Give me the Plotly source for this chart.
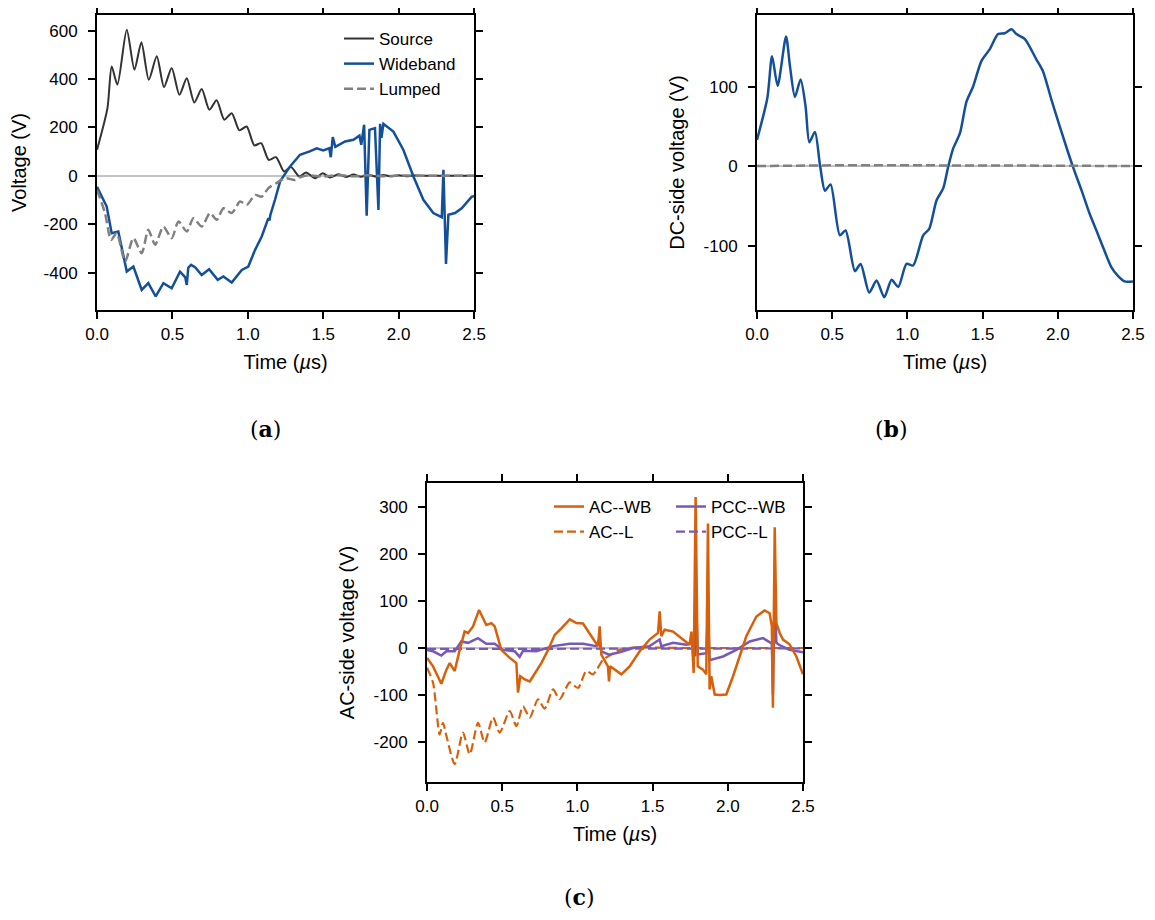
import plotly.graph_objects as go

# ---- (a) voltage at the terminal: source / wideband / lumped ----
t_src = [0, 0.069, 0.097, 0.135, 0.197, 0.248, 0.294, 0.343, 0.396, 0.444, 0.495,
         0.546, 0.595, 0.645, 0.694, 0.745, 0.793, 0.844, 0.893, 0.944, 0.992,
         1.043, 1.088, 1.138, 1.187, 1.240, 1.286, 1.342, 1.386, 1.446, 1.496,
         1.545, 1.6, 1.65, 1.7, 1.75, 1.8, 1.85, 1.9, 1.95, 2.0, 2.05, 2.1, 2.2,
         2.3, 2.5]
v_src = [108, 280, 452, 377, 604, 439, 552, 397, 494, 367, 446,
         335, 403, 303, 359, 273, 312, 232, 259, 188, 204,
         126, 135, 66, 77, 18, 36, -3, 14, -10, 11,
         -7, 6, -5, 5, -4, 4, -3, 3, -2, 2, -2, 1, 0,
         0, 0]

t_wb_a = [0, 0.004, 0.064, 0.097, 0.141, 0.175, 0.197, 0.241, 0.296, 0.340, 0.389,
          0.440, 0.495, 0.550, 0.585, 0.595, 0.605, 0.623, 0.650, 0.694, 0.743,
          0.800, 0.838, 0.893, 0.960, 1.003, 1.048, 1.092, 1.136, 1.143, 1.150,
          1.180, 1.214, 1.280, 1.346, 1.410, 1.457, 1.500, 1.540, 1.550, 1.563,
          1.580, 1.645, 1.700, 1.740, 1.752, 1.771, 1.788, 1.806, 1.843, 1.866,
          1.877, 1.886, 1.899, 1.965, 2.031, 2.098, 2.164, 2.230, 2.286, 2.297,
          2.314, 2.330, 2.374, 2.418, 2.485, 2.5]
v_wb_a = [-45, -51, -127, -237, -230, -334, -396, -375, -472, -444, -499,
          -444, -465, -396, -420, -451, -380, -368, -378, -410, -386,
          -430, -416, -441, -389, -375, -306, -251, -175, -185, -160,
          -99, -23, 39, 87, 101, 114, 105, 114, 77, 160,
          120, 142, 149, 166, 128, 211, -165, 190, 197, -141,
          215, 157, 215, 183, 108, -3, -99, -154, -171, 25,
          -364, -161, -154, -134, -86, -84]

t_lmp_a = [0, 0.053, 0.093, 0.130, 0.186, 0.241, 0.296, 0.340, 0.385, 0.440,
           0.495, 0.540, 0.595, 0.639, 0.694, 0.749, 0.794, 0.838, 0.893, 0.948,
           0.993, 1.048, 1.092, 1.136, 1.190, 1.247, 1.313, 1.346, 1.4, 1.5,
           1.6, 1.7, 1.8, 1.9, 2.0, 2.2, 2.5]
v_lmp_a = [-58, -155, -265, -237, -354, -258, -320, -223, -285, -210,
           -258, -189, -230, -175, -210, -154, -182, -134, -154, -106,
           -120, -79, -86, -51, -30, -10, -17, -6, 2, -3,
           3, -2, 2, -2, 1, 0, 0]

# ---- (b) DC-side voltage ----
t_dc_wb = [0, 0.069, 0.100, 0.137, 0.193, 0.219, 0.252, 0.290, 0.323, 0.348,
           0.385, 0.419, 0.452, 0.489, 0.551, 0.589, 0.651, 0.689, 0.746, 0.795,
           0.846, 0.895, 0.939, 0.994, 1.038, 1.105, 1.145, 1.194, 1.238, 1.271,
           1.304, 1.349, 1.393, 1.437, 1.492, 1.548, 1.603, 1.647, 1.692, 1.725,
           1.780, 1.858, 1.902, 1.957, 2.013, 2.057, 2.101, 2.157, 2.212, 2.257,
           2.301, 2.356, 2.400, 2.445, 2.5]
v_dc_wb = [33, 86, 138, 101, 163, 126, 87, 109, 75, 30,
           43, 1, -31, -23, -87, -81, -132, -123, -159, -144,
           -165, -143, -152, -123, -125, -87, -79, -43, -28, -1,
           22, 41, 81, 100, 132, 147, 166, 167, 172, 166,
           160, 134, 119, 84, 50, 24, -1, -30, -60, -81,
           -102, -127, -138, -145, -145]
t_dc_l = [0, 0.5, 1.0, 1.5, 2.0, 2.5]
v_dc_l = [0, 1, 1, 1, 0.5, 0]

# ---- (c) AC-side voltage ----
t_ac_wb = [0, 0.040, 0.095, 0.129, 0.151, 0.184, 0.217, 0.250, 0.273, 0.306,
           0.346, 0.394, 0.428, 0.450, 0.494, 0.550, 0.594, 0.605, 0.620, 0.650,
           0.683, 0.716, 0.760, 0.805, 0.849, 0.893, 0.949, 0.993, 1.037, 1.093,
           1.137, 1.148, 1.159, 1.203, 1.210, 1.218, 1.292, 1.347, 1.414, 1.480,
           1.536, 1.547, 1.558, 1.580, 1.636, 1.702, 1.746, 1.758, 1.773, 1.786,
           1.800, 1.835, 1.857, 1.868, 1.879, 1.890, 1.913, 1.945, 1.990, 2.035,
           2.079, 2.123, 2.190, 2.245, 2.278, 2.293, 2.300, 2.312, 2.323, 2.345,
           2.367, 2.410, 2.456, 2.5]
v_ac_wb = [-21, -39, -76, -46, -32, -49, -4, 35, 32, 46,
           81, 49, 53, 46, -4, -21, -32, -95, -60, -67,
           -71, -53, -32, -4, 28, 42, 61, 53, 52, 25,
           4, 46, -14, -39, -71, -39, -56, -39, -7, 18,
           32, 78, 25, 39, 35, 18, 7, 35, -53, 321,
           -39, -46, -56, 265, -88, -60, -99, -100, -99, -60,
           -18, 25, 67, 80, 74, 46, -127, 257, 53, 32,
           18, 8, -18, -56]

t_ac_l = [0, 0.040, 0.084, 0.106, 0.129, 0.184, 0.239, 0.284, 0.339, 0.383,
          0.439, 0.483, 0.550, 0.594, 0.638, 0.683, 0.738, 0.782, 0.838, 0.882,
          0.949, 1.004, 1.059, 1.104, 1.170, 1.214, 1.281, 1.370, 1.5, 1.7,
          2.0, 2.5]
v_ac_l = [-42, -74, -184, -159, -187, -247, -180, -226, -159, -201,
          -148, -180, -134, -166, -124, -148, -109, -129, -88, -109,
          -73, -85, -49, -56, -25, -16, -4, 1, 1, 0,
          0, 0]

t_pcc_wb = [0, 0.040, 0.095, 0.129, 0.184, 0.228, 0.273, 0.339, 0.394, 0.450,
            0.505, 0.583, 0.616, 0.638, 0.727, 0.838, 0.949, 1.037, 1.126, 1.144,
            1.159, 1.210, 1.281, 1.370, 1.480, 1.547, 1.558, 1.636, 1.724, 1.768,
            1.780, 1.790, 1.800, 1.857, 1.868, 1.879, 1.968, 2.057, 2.146, 2.234,
            2.280, 2.293, 2.300, 2.312, 2.323, 2.345, 2.410, 2.5]
v_pcc_wb = [-4, -7, -16, -7, -7, 14, 11, 21, 9, 9,
            -4, -7, -19, -6, -7, 4, 9, 9, 4, 16,
            -7, -14, -9, 0, 4, 18, 4, 11, 7, 11,
            -18, 91, -14, -11, 81, -26, -18, -4, 14, 21,
            12, 10, -100, 123, 11, 6, -4, -9]

t_pcc_l = [0, 0.5, 1.0, 1.5, 2.0, 2.5]
v_pcc_l = [-2, -2, -2, -1, -1, -1]

C_SRC = "#333333"
C_WB = "#14509a"
C_LMP = "#808080"
C_AC = "#d9600a"
C_PCC = "#7858b8"
DASH = "9px,4px"
FONT = "Liberation Sans, Arial, sans-serif"

# the page body adds an 8 px margin, so paper positions are shifted by it
OFF_X = 8 / 1155
OFF_Y = 8 / 920


def line(x, y, color, width, name=None, dash=None, shape="linear",
         xa="x", ya="y", legend="legend"):
    return go.Scatter(
        x=x, y=y, mode="lines", name=name, showlegend=name is not None,
        line=dict(color=color, width=width, dash=dash, shape=shape, smoothing=0.7),
        xaxis=xa, yaxis=ya, legend=legend, hoverinfo="skip",
    )


def yaxis_style(domain_y, rng, vals, title, anchor):
    return dict(
        domain=domain_y, range=rng, anchor=anchor, automargin=False,
        tickvals=vals, ticktext=[str(v) for v in vals], ticklabelstandoff=7,
        title=dict(text=title, standoff=14, font=dict(size=20)),
        showline=True, linecolor="black", linewidth=2, mirror="ticks",
        ticks="outside", ticklen=7, tickwidth=1.5, tickcolor="black",
        showgrid=False, zeroline=True, zerolinecolor="#c4c4c4", zerolinewidth=1.5,
    )


def xaxis_style(domain_x, anchor):
    return dict(
        domain=domain_x, range=[0, 2.5], anchor=anchor, automargin=False,
        tickvals=[0, 0.5, 1.0, 1.5, 2.0, 2.5], tickformat=".1f", ticklabelstandoff=1,
        title=dict(text="Time (<i>\u00b5</i>s)", standoff=12, font=dict(size=20)),
        showline=True, linecolor="black", linewidth=2, mirror="ticks",
        ticks="outside", ticklen=7, tickwidth=1.5, tickcolor="black",
        showgrid=False, zeroline=False,
    )


fig = go.Figure()

# (a)
fig.add_trace(line(t_src, v_src, C_SRC, 2, "Source", shape="spline"))
fig.add_trace(line(t_wb_a, v_wb_a, C_WB, 2.5, "Wideband"))
fig.add_trace(line(t_lmp_a, v_lmp_a, C_LMP, 2.5, "Lumped", dash=DASH, shape="spline"))

# (b)
fig.add_trace(line(t_dc_wb, v_dc_wb, C_WB, 2.5, shape="spline", xa="x2", ya="y2"))
fig.add_trace(line(t_dc_l, v_dc_l, C_LMP, 2.5, dash=DASH, xa="x2", ya="y2"))

# (c)
fig.add_trace(line(t_ac_l, v_ac_l, C_AC, 2.2, "AC--L", dash=DASH, shape="spline",
                   xa="x3", ya="y3", legend="legend2"))
fig.add_trace(line(t_pcc_l, v_pcc_l, C_PCC, 2.2, "PCC--L", dash=DASH,
                   xa="x3", ya="y3", legend="legend3"))
fig.add_trace(line(t_pcc_wb, v_pcc_wb, C_PCC, 2.5, "PCC--WB",
                   xa="x3", ya="y3", legend="legend3"))
fig.add_trace(line(t_ac_wb, v_ac_wb, C_AC, 2.5, "AC--WB",
                   xa="x3", ya="y3", legend="legend2"))

dax = [0.0771, 0.4035]
dbx = [0.6485, 0.9740]
dcx = [0.3628, 0.6883]
dtop = [0.6717, 0.9924]
dbot = [0.1587, 0.4837]

leg = dict(bgcolor="rgba(0,0,0,0)", font=dict(size=17, color="black"),
           xanchor="left", yanchor="top", tracegroupgap=0, traceorder="normal")

fig.update_layout(
    width=1155, height=920,
    margin=dict(l=0, r=0, t=0, b=0),
    paper_bgcolor="white", plot_bgcolor="white",
    font=dict(family=FONT, size=17, color="black"),
    xaxis=xaxis_style(dax, "y"),
    yaxis=yaxis_style(dtop, [-555, 665], [-400, -200, 0, 200, 400, 600],
                      "Voltage (V)", "x"),
    xaxis2=xaxis_style(dbx, "y2"),
    yaxis2=yaxis_style(dtop, [-181, 190], [-100, 0, 100],
                       "DC-side voltage (V)", "x2"),
    xaxis3=xaxis_style(dcx, "y3"),
    yaxis3=yaxis_style(dbot, [-285, 351], [-200, -100, 0, 100, 200, 300],
                       "AC-side voltage (V)", "x3"),
    legend=dict(leg, x=0.2866, y=0.9859),
    legend2=dict(leg, x=0.4684, y=0.4772, traceorder="reversed"),
    legend3=dict(leg, x=0.574, y=0.4772, traceorder="reversed"),
    showlegend=True,
)

cap_font = dict(family="DejaVu Serif, Liberation Serif, serif", size=22, color="black")
for x, y, s in [(0.2147, 0.5335, "a"), (0.788, 0.5335, "b"), (0.502, 0.009, "c")]:
    fig.add_annotation(x=x - OFF_X, y=y + OFF_Y, xref="paper", yref="paper",
                       text=f"(<b>{s}</b>)", showarrow=False, font=cap_font)

fig.write_html("out.html")
